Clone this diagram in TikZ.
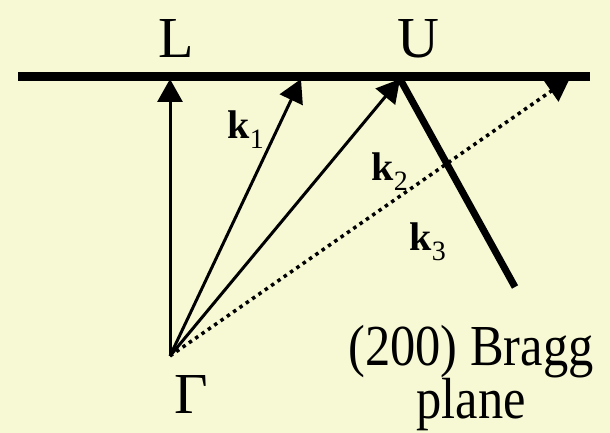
\documentclass[tikz,border=0pt]{standalone}
\usepackage{fontspec}
\setmainfont{Liberation Serif}
\newfontfamily\narrowserif[FakeStretch=0.87]{Liberation Serif}
\usetikzlibrary{arrows.meta, positioning}

\definecolor{paper}{RGB}{247,248,212}
\newcommand{\kvec}[1]{\textbf{k}\textsubscript{#1}}

\tikzset{
    big/.style={font=\fontsize{58}{58}\selectfont, inner sep=0pt},
    klabel/.style={font=\fontsize{40}{40}\selectfont, inner sep=0pt},
    kvector/.style={->, line width=3pt},
}

\begin{document}
\begin{tikzpicture}[x=1pt, y=-1pt, >={Triangle[length=23pt,width=25pt]}]
    \fill [paper] (0,0) rectangle (610,433);
    \useasboundingbox (0,0) rectangle (610,433);

    % points
    \coordinate (G) at (170,356);
    \coordinate (zoneL) at (18,77);
    \coordinate (zoneR) at (590,77);
    \coordinate (pL) at (170,79);
    \coordinate (p1) at (301,79);
    \coordinate (pU) at (400,79);
    \coordinate (p3) at (570,78);
    \coordinate (braggEnd) at (515,287);

    % wave vectors
    \draw [kvector] (G) -- (pL);
    \draw [kvector] (G) -- (p1);
    \draw [kvector] (G) -- (pU);
    \draw [->, line width=3.5pt, dash pattern=on 3.5pt off 4.2pt] (G) -- (p3);

    % zone boundary and Bragg plane
    \draw [line width=9pt] (zoneL) -- (zoneR);
    \draw [line width=7pt] (pU) -- (braggEnd);

    % labels
    \node (L) [big, anchor=base] at (176,58) {L};
    \node (U) [big, anchor=base] at (418,58) {U};
    \node (Gamma) [big, anchor=base] at (191,413) {Γ};
    \node (k1) [klabel] at (246,130) {\kvec{1}};
    \node (k2) [klabel] at (390,172) {\kvec{2}};
    \node (k3) [klabel] at (428,242) {\kvec{3}};
    \node (bragg) [big, anchor=base] at (471,365) {\narrowserif (200) Bragg};
    \node (plane) [big, anchor=base] at (471,418) {\narrowserif plane};
\end{tikzpicture}
\end{document}
